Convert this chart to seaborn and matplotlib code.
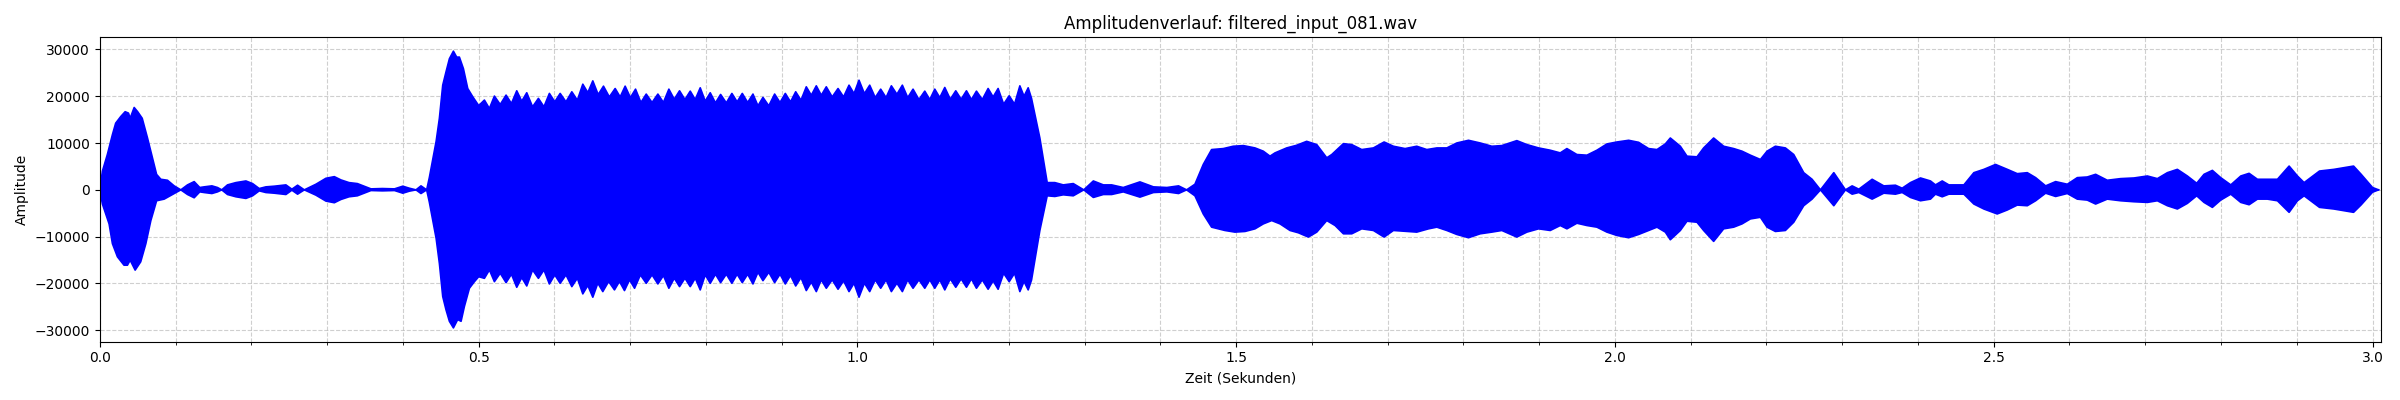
import numpy as np
import pandas as pd
import seaborn as sns
import matplotlib.pyplot as plt
from matplotlib.ticker import MultipleLocator

# envelope of the waveform (seconds, amplitude)
upper_time = [
    0.0, 0.0035, 0.010, 0.0167, 0.021, 0.0277, 0.0335, 0.0379, 0.0401, 0.0454,
    0.050, 0.056, 0.063, 0.0696, 0.075, 0.0806, 0.0894, 0.0982, 0.107, 0.1158,
    0.1246, 0.132, 0.1378, 0.148, 0.1554, 0.161, 0.1686, 0.1797, 0.1929, 0.2017,
    0.2105, 0.2193, 0.2303, 0.2457, 0.2536, 0.2611, 0.270, 0.2853, 0.2985, 0.3096,
    0.3184, 0.329, 0.340, 0.349, 0.358, 0.373, 0.389, 0.400, 0.4086, 0.4174,
    0.424, 0.4315, 0.435, 0.444, 0.4483, 0.4527, 0.457, 0.4615, 0.4668, 0.4711,
    0.4747, 0.480, 0.4857, 0.4923, 0.5002,
    0.5077, 0.5143, 0.5209, 0.5286, 0.5363, 0.5434, 0.5504, 0.5570, 0.5636, 0.5713,
    0.5790, 0.5863, 0.5935, 0.6006, 0.6077, 0.6154, 0.6231, 0.6304, 0.6376, 0.6442,
    0.6508, 0.6579, 0.6649, 0.6726, 0.6803, 0.6869, 0.6935, 0.7004, 0.7072, 0.7143,
    0.7213, 0.7290, 0.7367, 0.7440, 0.7512, 0.7583, 0.7653, 0.7724, 0.7794, 0.7860,
    0.7926, 0.7992, 0.8058, 0.8127, 0.8195, 0.8270, 0.8344, 0.8413, 0.8481, 0.8552,
    0.8622, 0.8688, 0.8754, 0.8831, 0.8908, 0.8979, 0.9049, 0.9118, 0.9186, 0.9256,
    0.9326, 0.9392, 0.9458, 0.9524, 0.9590, 0.9668, 0.9745, 0.9818, 0.9890, 0.9956,
    1.0022, 1.0093, 1.0163, 1.0236, 1.0308, 1.0379, 1.0449, 1.0522, 1.0594, 1.0665,
    1.0735, 1.0813, 1.0890, 1.0956, 1.1022, 1.1088, 1.1154, 1.1227, 1.1299, 1.1370,
    1.1440, 1.1506, 1.1572, 1.1649, 1.1726, 1.1792, 1.1858, 1.1931, 1.2004, 1.2075,
    1.2145, 1.2200, 1.2255, 1.2299, 1.2409, 1.2506,
    1.2607, 1.2718, 1.2850, 1.2989, 1.3115, 1.3247, 1.3357, 1.351, 1.373, 1.3908,
    1.4086, 1.424, 1.4346, 1.4456, 1.4566, 1.4676, 1.4830, 1.4962, 1.5095, 1.5249,
    1.5359, 1.5447, 1.5513, 1.5667, 1.5799, 1.5931, 1.6064, 1.6196, 1.6262, 1.6416,
    1.6526, 1.6658, 1.6812, 1.6953, 1.7076, 1.7230, 1.7384, 1.7517, 1.7649, 1.7781,
    1.7913, 1.8067, 1.8221, 1.8375, 1.8507, 1.8705, 1.8838, 1.8992, 1.9146, 1.9278,
    1.9366, 1.9498, 1.9630, 1.9762, 1.9894, 2.0026, 2.0181, 2.0313, 2.0445, 2.0555,
    2.0665, 2.0731, 2.0863, 2.0951, 2.1083, 2.1171, 2.1303, 2.1435, 2.1568, 2.1678,
    2.1788, 2.1920, 2.2008, 2.2118, 2.2250, 2.2360, 2.2492, 2.2602, 2.2713, 2.2889,
    2.3043, 2.3131, 2.3219, 2.3395, 2.3549, 2.3703, 2.3791, 2.3901, 2.4033, 2.4165,
    2.4231, 2.4320, 2.4408, 2.4606, 2.4738, 2.4870, 2.5024, 2.5179, 2.5311, 2.5443,
    2.5553, 2.5685, 2.5817, 2.5971, 2.6103, 2.6235, 2.6345, 2.6499, 2.6675, 2.6852,
    2.7028, 2.7160, 2.7292, 2.7424, 2.7556, 2.7679, 2.7776, 2.7886, 2.7996, 2.8129,
    2.8261, 2.8371, 2.8481, 2.8613, 2.8745, 2.8899, 2.9009, 2.9097, 2.930, 2.949,
    2.975, 2.985, 3.000, 3.008,
]
upper_amp = [
    0, 4000, 7550, 11800, 14250, 15670, 16700, 16400, 15300, 17600,
    16700, 15300, 11080, 6850, 3300, 2260, 2050, 850, 0, 1060,
    1760, 500, 640, 850, 500, 0, 1060, 1550, 1900, 1340,
    280, 640, 780, 1060, 140, 990, 0, 1200, 2470, 2820,
    2120, 1550, 1340, 780, 210, 280, 210, 780, 350, 0,
    850, 0, 2600, 10370, 15310, 22370, 25190, 28020, 29640, 28370,
    28370, 25900, 21660, 19900, 18000,
    19190, 17390, 20040, 18240, 20250, 18450, 21170, 18950, 20750, 17750,
    19550, 17750, 20610, 18810, 20610, 18810, 20960, 19160, 22580, 20780,
    23290, 20360, 22160, 19860, 21660, 19860, 22160, 19720, 21520, 18670,
    20470, 18670, 20470, 18670, 21520, 19370, 21170, 19300, 21100, 19300,
    21810, 18950, 20750, 18590, 20390, 18590, 20610, 18810, 20610, 18670,
    20470, 17960, 19760, 17960, 20470, 18670, 20610, 18810, 20960, 19160,
    22020, 20220, 22230, 20220, 22020, 19860, 21660, 19860, 22370, 20570,
    23430, 20570, 22370, 19720, 21520, 19720, 22230, 20430, 22370, 19720,
    21520, 19300, 21100, 19300, 21520, 19720, 21880, 19370, 21170, 19370,
    21170, 19300, 21100, 19300, 21660, 19860, 21660, 18310, 20110, 18310,
    22230, 20010, 21810, 19550, 11080, 1550,
    1550, 1060, 1340, 0, 1900, 1060, 1060, 500, 1700, 640,
    500, 850, 0, 1200, 5430, 8610, 8820, 9320, 9460, 8960,
    8260, 7200, 7900, 8960, 9530, 10370, 9670, 6850, 7550, 9880,
    9670, 8610, 8960, 10230, 9320, 8820, 9320, 8610, 8960, 8960,
    10020, 10590, 10020, 9320, 9460, 10520, 9670, 8960, 8470, 7900,
    8820, 7550, 7410, 8470, 9810, 10230, 10590, 10160, 8820, 8610,
    9810, 11080, 9320, 7200, 7060, 8960, 11080, 9320, 8820, 8260,
    7410, 6490, 8260, 9320, 8960, 7550, 3670, 2260, 0, 3670,
    0, 850, 140, 2260, 850, 990, 350, 1550, 2540, 1900,
    1060, 1900, 1060, 1060, 3670, 4380, 5430, 4380, 3460, 3670,
    2610, 850, 1760, 1200, 2610, 2750, 3320, 2050, 2400, 2540,
    2960, 2400, 3670, 4380, 2960, 1410, 3320, 4160, 2610, 1060,
    2960, 3530, 2260, 2260, 2260, 5080, 2960, 1550, 4020, 4375,
    5080, 3320, 500, 0,
]

lower_time = [
    0.0, 0.0035, 0.0123, 0.0167, 0.0233, 0.032, 0.0365, 0.0401, 0.0467, 0.054,
    0.0608, 0.0674, 0.075, 0.085, 0.0982, 0.107, 0.1158, 0.1246, 0.132, 0.1378,
    0.148, 0.1554, 0.161, 0.1686, 0.1797, 0.1929, 0.2017, 0.2105, 0.2193, 0.2303,
    0.2457, 0.2536, 0.2611, 0.270, 0.2853, 0.2985, 0.3096, 0.3184, 0.329, 0.340,
    0.349, 0.358, 0.373, 0.389, 0.400, 0.4086, 0.4174, 0.424, 0.4315, 0.435,
    0.444, 0.4483, 0.4527, 0.457, 0.4615, 0.4668, 0.4724, 0.4769, 0.4813, 0.4879,
    0.4945, 0.5002,
    0.5077, 0.5143, 0.5209, 0.5286, 0.5363, 0.5434, 0.5504, 0.5570, 0.5636, 0.5713,
    0.5790, 0.5863, 0.5935, 0.6006, 0.6077, 0.6154, 0.6231, 0.6304, 0.6376, 0.6442,
    0.6508, 0.6574, 0.6640, 0.6717, 0.6794, 0.6860, 0.6926, 0.6993, 0.7059, 0.7136,
    0.7213, 0.7290, 0.7367, 0.7440, 0.7512, 0.7583, 0.7653, 0.7724, 0.7794, 0.7860,
    0.7926, 0.7992, 0.8058, 0.8127, 0.8195, 0.8270, 0.8344, 0.8413, 0.8481, 0.8552,
    0.8622, 0.8688, 0.8754, 0.8831, 0.8908, 0.8979, 0.9049, 0.9118, 0.9186, 0.9256,
    0.9326, 0.9392, 0.9458, 0.9524, 0.9590, 0.9668, 0.9745, 0.9818, 0.9890, 0.9956,
    1.0022, 1.0093, 1.0163, 1.0236, 1.0308, 1.0379, 1.0449, 1.0522, 1.0594, 1.0665,
    1.0735, 1.0813, 1.0890, 1.0956, 1.1022, 1.1088, 1.1154, 1.1227, 1.1299, 1.1370,
    1.1440, 1.1506, 1.1572, 1.1649, 1.1726, 1.1792, 1.1858, 1.1931, 1.2004, 1.2075,
    1.2145, 1.2200, 1.2255, 1.2299, 1.2409, 1.2506,
    1.2607, 1.2718, 1.2850, 1.2989, 1.3115, 1.3247, 1.3357, 1.351, 1.373, 1.3908,
    1.4086, 1.424, 1.4346, 1.4456, 1.4566, 1.4676, 1.4852, 1.4984, 1.5117, 1.5249,
    1.5359, 1.5469, 1.5579, 1.5711, 1.5821, 1.5953, 1.6064, 1.6196, 1.6306, 1.6416,
    1.6526, 1.6658, 1.6812, 1.6953, 1.7076, 1.7252, 1.7384, 1.7539, 1.7649, 1.7781,
    1.7913, 1.8067, 1.8221, 1.8375, 1.8507, 1.8705, 1.8838, 1.8992, 1.9146, 1.9278,
    1.9366, 1.9498, 1.9630, 1.9762, 1.9894, 2.0026, 2.0181, 2.0313, 2.0445, 2.0555,
    2.0665, 2.0731, 2.0863, 2.0951, 2.1083, 2.1171, 2.1303, 2.1435, 2.1568, 2.1678,
    2.1788, 2.1920, 2.2008, 2.2118, 2.2250, 2.2360, 2.2492, 2.2602, 2.2713, 2.2889,
    2.3043, 2.3131, 2.3219, 2.3395, 2.3549, 2.3703, 2.3791, 2.3901, 2.4033, 2.4165,
    2.4231, 2.4320, 2.4408, 2.4606, 2.4738, 2.4870, 2.5046, 2.5179, 2.5311, 2.5443,
    2.5553, 2.5685, 2.5817, 2.5971, 2.6103, 2.6235, 2.6345, 2.6499, 2.6675, 2.6852,
    2.7028, 2.7160, 2.7292, 2.7424, 2.7556, 2.7679, 2.7776, 2.7886, 2.7996, 2.8129,
    2.8261, 2.8371, 2.8481, 2.8613, 2.8745, 2.8899, 2.9009, 2.9097, 2.930, 2.949,
    2.975, 2.985, 3.000, 3.008,
]
lower_amp = [
    0, -3030, -7270, -11500, -14300, -16100, -16100, -15030, -17150, -15380,
    -11500, -6560, -2330, -1980, -780, 0, -990, -1690, -430, -570,
    -780, -430, 0, -990, -1480, -1830, -1270, -210, -570, -710,
    -990, -70, -920, 0, -1130, -2400, -2750, -2050, -1480, -1270,
    -710, -140, -210, -140, -710, -280, 0, -780, 0, -2600,
    -10370, -15740, -22790, -25610, -28090, -29500, -27730, -28090, -24910, -21030,
    -19620, -18560,
    -18910, -17110, -19620, -17820, -19830, -18030, -20820, -18740, -20540, -17110,
    -18910, -17110, -20110, -18170, -19970, -18170, -20680, -18880, -22230, -20430,
    -22940, -19940, -21740, -19580, -21380, -19580, -21520, -19230, -21030, -18170,
    -19970, -18170, -20110, -18310, -21030, -18880, -20680, -18880, -20680, -18880,
    -21380, -18170, -19970, -18030, -19830, -18030, -19970, -18030, -19830, -18030,
    -20110, -17610, -19410, -17610, -19830, -18030, -20110, -18310, -20540, -18740,
    -21520, -19720, -21740, -19230, -21030, -19230, -21240, -19440, -21740, -19940,
    -22940, -19940, -21740, -19230, -21030, -19230, -21740, -19940, -21740, -19230,
    -21030, -19230, -21030, -19230, -21030, -19230, -21380, -19020, -20820, -19020,
    -20820, -19020, -21030, -19230, -21240, -19440, -21240, -17820, -19620, -17820,
    -21740, -19580, -21380, -19270, -8680, -1270,
    -1410, -1060, -1270, 0, -1620, -990, -990, -430, -1550, -570,
    -430, -780, 0, -1270, -5150, -7970, -8680, -9030, -8890, -8330,
    -7270, -6560, -7270, -8680, -9170, -10090, -9030, -6560, -7620, -9390,
    -9390, -8330, -8680, -10090, -8680, -8890, -9030, -8330, -7970, -8680,
    -9530, -10230, -9390, -9030, -8680, -10090, -9030, -8330, -8680, -7620,
    -8330, -7130, -7620, -7970, -9030, -9740, -10230, -9530, -8680, -7970,
    -9030, -10660, -8680, -6700, -6920, -8680, -11010, -8330, -7970, -7270,
    -6210, -5860, -7970, -8890, -8680, -6920, -3390, -1980, 0, -3390,
    0, -920, -560, -1980, -710, -920, -560, -1620, -2330, -1980,
    -920, -1480, -920, -920, -3030, -4090, -5150, -4300, -3250, -3390,
    -2330, -710, -1410, -780, -1980, -2190, -3030, -1980, -2330, -2540,
    -2680, -2330, -3390, -4090, -2890, -1270, -2680, -3740, -2190, -920,
    -2680, -3180, -1980, -1980, -2330, -4800, -2330, -1270, -3740, -4090,
    -4800, -3200, -500, 0,
]

duration = 3.011
file_name = "filtered_input_081.wav"

upper = pd.DataFrame({"Zeit": upper_time, "Amplitude": upper_amp})
lower = pd.DataFrame({"Zeit": lower_time, "Amplitude": lower_amp})

fig, ax = plt.subplots(figsize=(24, 4), dpi=100)

# filled waveform outline: upper edge forward, lower edge backward
poly_x = list(upper["Zeit"]) + list(lower["Zeit"][::-1])
poly_y = list(upper["Amplitude"]) + list(lower["Amplitude"][::-1])
ax.fill(poly_x, poly_y, color="blue", linewidth=0)

for env in (upper, lower):
    sns.lineplot(data=env, x="Zeit", y="Amplitude", color="blue", linewidth=1.2,
                 estimator=None, sort=False, ax=ax)

ax.set_xlim(0, duration)
ax.xaxis.set_major_locator(MultipleLocator(0.5))
ax.xaxis.set_minor_locator(MultipleLocator(0.1))
ax.grid(True, which="both", linestyle="--", alpha=0.6)
ax.set_axisbelow(True)

ax.set_title(f"Amplitudenverlauf: {file_name}")
ax.set_xlabel("Zeit (Sekunden)")
ax.set_ylabel("Amplitude")

plt.tight_layout()
plt.savefig("out.png")
